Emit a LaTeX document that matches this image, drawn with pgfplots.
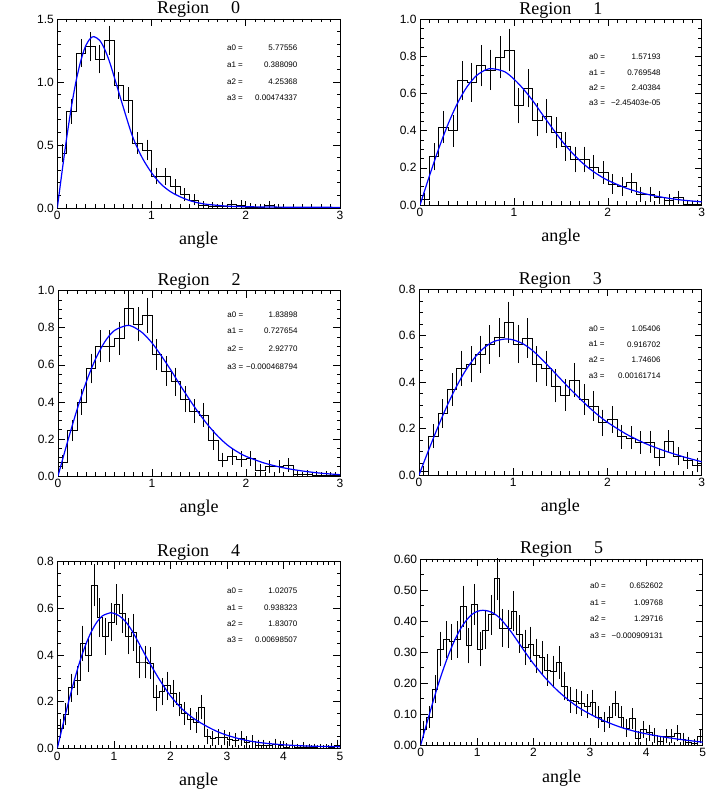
\documentclass[border=0pt]{standalone}
\usepackage{fontspec}
\setmainfont{Liberation Serif}
\setsansfont{Liberation Sans}
\usepackage{pgfplots}
\usepackage{pgfplotstable}
\pgfplotsset{compat=1.18}

\pgfplotstableread{
x y c e
0 0.50 nan 0
0.05 0.435 0.05 0.05
0.1 0.767 0.15 0.075
0.2 1.23 0.25 0.09
0.3 1.28 0.35 0.093
0.4 1.18 0.45 0.09
0.5 1.33 0.55 0.095
0.6 0.973 0.65 0.082
0.7 0.857 0.75 0.078
0.8 0.515 0.85 0.063
0.9 0.46 0.95 0.06
1.0 0.255 1.05 0.044
1.1 0.25 1.15 0.043
1.2 0.17 1.25 0.035
1.3 0.105 1.35 0.028
1.4 0.065 1.45 0.022
1.5 0.02 1.55 0.012
1.6 0.015 1.65 0.01
1.7 0.015 1.75 0.01
1.8 0.03 1.85 0.014
1.9 0.025 1.95 0.013
2.0 0.008 2.05 0.007
2.1 0.005 2.15 0.006
2.2 0.02 2.25 0.012
2.3 0.005 2.35 0.006
2.4 0 nan 0
2.5 0 nan 0
2.6 0 nan 0
2.7 0 nan 0
2.8 0 nan 0
2.9 0 nan 0
3.0 0 nan 0
}\regzero

\pgfplotstableread{
x y c e
0 0.03 0.05 0.02
0.1 0.26 0.15 0.058
0.2 0.42 0.25 0.072
0.3 0.40 0.35 0.07
0.4 0.67 0.45 0.09
0.5 0.66 0.55 0.09
0.6 0.75 0.65 0.096
0.7 0.727 0.75 0.094
0.8 0.795 0.85 0.098
0.9 0.835 0.95 0.1
1.0 0.535 1.05 0.08
1.1 0.628 1.15 0.087
1.2 0.458 1.25 0.074
1.3 0.478 1.35 0.076
1.4 0.39 1.45 0.068
1.5 0.314 1.55 0.062
1.6 0.245 1.65 0.054
1.7 0.245 1.75 0.054
1.8 0.205 1.85 0.05
1.9 0.175 1.95 0.046
2.0 0.113 2.05 0.037
2.1 0.10 2.15 0.035
2.2 0.12 2.25 0.038
2.3 0.057 2.35 0.026
2.4 0.057 2.45 0.026
2.5 0.04 2.55 0.022
2.6 0.025 2.65 0.017
2.7 0.04 2.75 0.022
2.8 0.005 2.85 0.008
2.9 0.005 2.95 0.008
3.0 0.005 nan 0
}\regone

\pgfplotstableread{
x y c e
0 0.075 0.05 0.023
0.1 0.245 0.15 0.042
0.2 0.40 0.25 0.054
0.3 0.58 0.35 0.065
0.4 0.70 0.45 0.071
0.5 0.70 0.55 0.071
0.6 0.743 0.65 0.073
0.7 0.905 0.75 0.081
0.8 0.818 0.85 0.077
0.9 0.868 0.95 0.079
1.0 0.656 1.05 0.069
1.1 0.567 1.15 0.064
1.2 0.509 1.25 0.061
1.3 0.415 1.35 0.055
1.4 0.35 1.45 0.05
1.5 0.33 1.55 0.049
1.6 0.195 1.65 0.038
1.7 0.086 1.75 0.025
1.8 0.104 1.85 0.027
1.9 0.092 1.95 0.026
2.0 0.095 2.05 0.026
2.1 0.032 2.15 0.015
2.2 0.05 2.25 0.019
2.3 0.05 2.35 0.019
2.4 0.06 2.45 0.021
2.5 0.01 2.55 0.009
2.6 0.008 2.65 0.008
2.7 0.005 2.75 0.006
2.8 0.005 2.85 0.006
2.9 0.002 2.95 0.004
3.0 0.002 nan 0
}\regtwo

\pgfplotstableread{
x y c e
0 0.015 0.05 0.012
0.1 0.168 0.15 0.039
0.2 0.265 0.25 0.049
0.3 0.368 0.35 0.058
0.4 0.46 0.45 0.064
0.5 0.477 0.55 0.066
0.6 0.52 0.65 0.068
0.7 0.562 0.75 0.071
0.8 0.592 0.85 0.073
0.9 0.658 0.95 0.077
1.0 0.565 1.05 0.071
1.1 0.59 1.15 0.073
1.2 0.477 1.25 0.066
1.3 0.46 1.35 0.064
1.4 0.384 1.45 0.059
1.5 0.345 1.55 0.056
1.6 0.41 1.65 0.061
1.7 0.325 1.75 0.054
1.8 0.298 1.85 0.052
1.9 0.225 1.95 0.045
2.0 0.238 2.05 0.046
2.1 0.165 2.15 0.039
2.2 0.16 2.25 0.038
2.3 0.14 2.35 0.036
2.4 0.143 2.45 0.036
2.5 0.075 2.55 0.026
2.6 0.145 2.65 0.036
2.7 0.082 2.75 0.027
2.8 0.062 2.85 0.024
2.9 0.043 2.95 0.02
3.0 0.043 nan 0
}\regthree

\pgfplotstableread{
x y c e
0 0.086 0.05 0.028
0.1 0.146 0.15 0.036
0.2 0.26 0.25 0.048
0.3 0.29 0.35 0.051
0.4 0.45 0.45 0.064
0.5 0.40 0.55 0.06
0.6 0.70 0.65 0.079
0.7 0.56 0.75 0.071
0.8 0.48 0.85 0.066
0.9 0.54 0.95 0.07
1.0 0.617 1.05 0.075
1.1 0.578 1.15 0.072
1.2 0.481 1.25 0.066
1.3 0.497 1.35 0.067
1.4 0.37 1.45 0.058
1.5 0.37 1.55 0.058
1.6 0.364 1.65 0.057
1.7 0.217 1.75 0.044
1.8 0.243 1.85 0.047
1.9 0.268 1.95 0.049
2.0 0.235 2.05 0.046
2.1 0.19 2.15 0.041
2.2 0.15 2.25 0.037
2.3 0.126 2.35 0.034
2.4 0.11 2.45 0.032
2.5 0.177 2.55 0.04
2.6 0.05 2.65 0.021
2.7 0.043 2.75 0.02
2.8 0.049 2.85 0.021
2.9 0.046 2.95 0.02
3.0 0.039 3.05 0.019
3.1 0.034 3.15 0.018
3.2 0.043 3.25 0.02
3.3 0.024 3.35 0.015
3.4 0.029 3.45 0.016
3.5 0.014 3.55 0.011
3.6 0.014 3.65 0.011
3.7 0.011 3.75 0.01
3.8 0.017 3.85 0.012
3.9 0.011 3.95 0.01
4.0 0.004 4.05 0.006
4.1 0.014 4.15 0.011
4.2 0.003 4.25 0.005
4.3 0.006 4.35 0.007
4.4 0.003 4.45 0.005
4.5 0.003 4.55 0.005
4.6 0.002 4.65 0.004
4.7 0.002 4.75 0.004
4.8 0.004 4.85 0.006
4.9 0.014 4.95 0.011
5.0 0.014 nan 0
}\regfour

\pgfplotstableread{
x y c e
0 0.05 0.05 0.019
0.1 0.09 0.15 0.026
0.2 0.18 0.25 0.036
0.3 0.31 0.35 0.047
0.4 0.34 0.45 0.05
0.5 0.333 0.55 0.049
0.6 0.34 0.65 0.05
0.7 0.448 0.75 0.057
0.8 0.32 0.85 0.048
0.9 0.454 0.95 0.057
1.0 0.31 1.05 0.047
1.1 0.37 1.15 0.052
1.2 0.42 1.25 0.055
1.3 0.538 1.35 0.062
1.4 0.378 1.45 0.052
1.5 0.375 1.55 0.052
1.6 0.432 1.65 0.056
1.7 0.358 1.75 0.051
1.8 0.315 1.85 0.048
1.9 0.325 1.95 0.048
2.0 0.288 2.05 0.046
2.1 0.282 2.15 0.045
2.2 0.242 2.25 0.042
2.3 0.238 2.35 0.041
2.4 0.267 2.45 0.044
2.5 0.19 2.55 0.037
2.6 0.145 2.65 0.032
2.7 0.14 2.75 0.032
2.8 0.135 2.85 0.031
2.9 0.125 2.95 0.03
3.0 0.138 3.05 0.032
3.1 0.09 3.15 0.026
3.2 0.075 3.25 0.023
3.3 0.09 3.35 0.026
3.4 0.135 3.45 0.031
3.5 0.09 3.55 0.026
3.6 0.055 3.65 0.02
3.7 0.085 3.75 0.025
3.8 0.022 3.85 0.013
3.9 0.05 3.95 0.019
4.0 0.04 4.05 0.017
4.1 0.03 4.15 0.015
4.2 0.012 4.25 0.009
4.3 0.028 4.35 0.014
4.4 0.028 4.45 0.014
4.5 0.038 4.55 0.017
4.6 0.018 4.65 0.011
4.7 0.01 4.75 0.008
4.8 0.004 4.85 0.005
4.9 0.028 4.95 0.014
5.0 0.028 nan 0
}\regfive

\tikzset{partxt/.style={font=\sffamily\fontsize{8}{8}\selectfont, inner sep=0pt}}
\pgfplotsset{
  panel/.style={
    scale only axis, anchor=south west,
    axis line style={black, line width=0.7pt},
    tick style={black, line width=0.6pt},
    major tick length=7pt, minor tick length=3.5pt,
    tick align=inside, xtick pos=both, ytick pos=both,
    xticklabel pos=bottom, yticklabel pos=left,
    minor x tick num=9,
    ticklabel style={font=\sffamily\fontsize{12}{12}\selectfont},
    /pgf/number format/assume math mode=true,
    xlabel={angle},
    xlabel style={font=\rmfamily\fontsize{18}{18}\selectfont, at={(axis description cs:0.5,0)}, anchor=base, yshift=-37pt},
    title style={font=\rmfamily\fontsize{18}{18}\selectfont, at={(axis description cs:0.5,1)}, anchor=base, yshift=-1pt},
    clip mode=individual, xmin=0, ymin=0,
  },
  hist/.style={const plot mark left, black, line width=0.6pt, mark=none},
  ebar/.style={draw=none, mark=none,
    error bars/.cd, y dir=both, y explicit, error mark=-,
    error bar style={draw=black, line width=0.6pt},
    error mark options={draw=black, line width=0.6pt, mark size=2.8pt}},
  fit/.style={blue, line width=1.2pt, smooth, mark=none},
}

\begin{document}
\begin{tikzpicture}
\useasboundingbox (0pt,0pt) rectangle (706pt,797pt);

% Region 0
\begin{axis}[panel, at={(57.3pt,589pt)}, width=282.7pt, height=189pt,
  xmax=3, ymax=1.5, xtick={0,1,2,3}, ytick={0,0.5,1.0,1.5}, minor y tick num=4,
  yticklabel style={/pgf/number format/.cd, fixed, fixed zerofill, precision=1},
  title={Region\hspace{22pt}0}]
\addplot[hist] table[x=x, y=y] {\regzero};
\addplot[ebar] table[x=c, y=y, y error=e] {\regzero};
\addplot[fit] coordinates {(0,0) (0.05,0.286) (0.1,0.559) (0.15,0.804) (0.2,1.01) (0.25,1.17) (0.3,1.285) (0.35,1.345) (0.39,1.36) (0.45,1.33) (0.5,1.265) (0.55,1.17) (0.6,1.05) (0.7,0.80) (0.8,0.565) (0.9,0.40) (1.0,0.28) (1.1,0.19) (1.2,0.13) (1.3,0.09) (1.4,0.06) (1.5,0.04) (1.6,0.028) (1.8,0.015) (2.0,0.01) (2.5,0.006) (3.0,0.005)};
\node[partxt, anchor=west] at (axis description cs:0.60,0.847) {a0 =};
\node[partxt, anchor=east] at (axis description cs:0.85,0.847) {5.77556};
\node[partxt, anchor=west] at (axis description cs:0.60,0.757) {a1 =};
\node[partxt, anchor=east] at (axis description cs:0.85,0.757) {0.388090};
\node[partxt, anchor=west] at (axis description cs:0.60,0.667) {a2 =};
\node[partxt, anchor=east] at (axis description cs:0.85,0.667) {4.25368};
\node[partxt, anchor=west] at (axis description cs:0.60,0.582) {a3 =};
\node[partxt, anchor=east] at (axis description cs:0.85,0.582) {0.00474337};
\end{axis}

% Region 1
\begin{axis}[panel, at={(420pt,592pt)}, width=281.7pt, height=185.7pt,
  xmax=3, ymax=1.0, xtick={0,1,2,3}, ytick={0,0.2,0.4,0.6,0.8,1.0}, minor y tick num=3,
  yticklabel style={/pgf/number format/.cd, fixed, fixed zerofill, precision=1},
  title={Region\hspace{22pt}1}]
\addplot[hist] table[x=x, y=y] {\regone};
\addplot[ebar] table[x=c, y=y, y error=e] {\regone};
\addplot[fit] coordinates {(0,0) (0.1,0.156) (0.2,0.304) (0.3,0.437) (0.4,0.549) (0.5,0.636) (0.6,0.696) (0.7,0.728) (0.77,0.734) (0.9,0.718) (1.0,0.678) (1.1,0.625) (1.2,0.562) (1.3,0.49) (1.4,0.42) (1.5,0.352) (1.6,0.292) (1.7,0.24) (1.8,0.197) (1.9,0.162) (2.0,0.133) (2.2,0.09) (2.4,0.06) (2.6,0.04) (2.8,0.026) (3.0,0.017)};
\node[partxt, anchor=west] at (axis description cs:0.60,0.80) {a0 =};
\node[partxt, anchor=east] at (axis description cs:0.855,0.80) {1.57193};
\node[partxt, anchor=west] at (axis description cs:0.60,0.713) {a1 =};
\node[partxt, anchor=east] at (axis description cs:0.855,0.713) {0.769548};
\node[partxt, anchor=west] at (axis description cs:0.60,0.632) {a2 =};
\node[partxt, anchor=east] at (axis description cs:0.855,0.632) {2.40384};
\node[partxt, anchor=west] at (axis description cs:0.60,0.548) {a3 =};
\node[partxt, anchor=east] at (axis description cs:0.855,0.548) {−2.45403e-05};
\end{axis}

% Region 2
\begin{axis}[panel, at={(58pt,321pt)}, width=282pt, height=185.3pt,
  xmax=3, ymax=1.0, xtick={0,1,2,3}, ytick={0,0.2,0.4,0.6,0.8,1.0}, minor y tick num=3,
  yticklabel style={/pgf/number format/.cd, fixed, fixed zerofill, precision=1},
  title={Region\hspace{22pt}2}]
\addplot[hist] table[x=x, y=y] {\regtwo};
\addplot[ebar] table[x=c, y=y, y error=e] {\regtwo};
\addplot[fit] coordinates {(0,0) (0.1,0.182) (0.2,0.354) (0.3,0.507) (0.4,0.632) (0.5,0.726) (0.6,0.785) (0.73,0.812) (0.8,0.805) (0.9,0.772) (1.0,0.718) (1.1,0.648) (1.2,0.572) (1.3,0.49) (1.4,0.412) (1.5,0.338) (1.6,0.272) (1.7,0.215) (1.8,0.168) (1.9,0.133) (2.0,0.106) (2.2,0.069) (2.4,0.044) (2.6,0.027) (2.8,0.015) (3.0,0.007)};
\node[partxt, anchor=west] at (axis description cs:0.60,0.869) {a0 =};
\node[partxt, anchor=east] at (axis description cs:0.85,0.869) {1.83898};
\node[partxt, anchor=west] at (axis description cs:0.60,0.784) {a1 =};
\node[partxt, anchor=east] at (axis description cs:0.85,0.784) {0.727654};
\node[partxt, anchor=west] at (axis description cs:0.60,0.687) {a2 =};
\node[partxt, anchor=east] at (axis description cs:0.85,0.687) {2.92770};
\node[partxt, anchor=west] at (axis description cs:0.60,0.590) {a3 =};
\node[partxt, anchor=east] at (axis description cs:0.85,0.590) {−0.000468794};
\end{axis}

% Region 3
\begin{axis}[panel, at={(419pt,322pt)}, width=282.7pt, height=185.7pt,
  xmax=3, ymax=0.8, xtick={0,1,2,3}, ytick={0,0.2,0.4,0.6,0.8}, minor y tick num=3,
  yticklabel style={/pgf/number format/.cd, fixed, fixed zerofill, precision=1},
  title={Region\hspace{22pt}3}]
\addplot[hist] table[x=x, y=y] {\regthree};
\addplot[ebar] table[x=c, y=y, y error=e] {\regthree};
\addplot[fit] coordinates {(0,0) (0.1,0.105) (0.2,0.206) (0.3,0.300) (0.4,0.383) (0.5,0.454) (0.6,0.510) (0.7,0.551) (0.8,0.576) (0.92,0.586) (1.0,0.582) (1.1,0.566) (1.2,0.538) (1.3,0.50) (1.4,0.458) (1.5,0.415) (1.6,0.372) (1.7,0.332) (1.8,0.293) (1.9,0.258) (2.0,0.227) (2.2,0.176) (2.4,0.136) (2.6,0.105) (2.8,0.079) (3.0,0.057)};
\node[partxt, anchor=west] at (axis description cs:0.60,0.787) {a0 =};
\node[partxt, anchor=east] at (axis description cs:0.855,0.787) {1.05406};
\node[partxt, anchor=west] at (axis description cs:0.60,0.704) {a1 =};
\node[partxt, anchor=east] at (axis description cs:0.855,0.704) {0.916702};
\node[partxt, anchor=west] at (axis description cs:0.60,0.622) {a2 =};
\node[partxt, anchor=east] at (axis description cs:0.855,0.622) {1.74606};
\node[partxt, anchor=west] at (axis description cs:0.60,0.534) {a3 =};
\node[partxt, anchor=east] at (axis description cs:0.855,0.534) {0.00161714};
\end{axis}

% Region 4
\begin{axis}[panel, at={(57.3pt,48.7pt)}, width=282.7pt, height=186.6pt,
  xmax=5, ymax=0.8, xtick={0,1,2,3,4,5}, ytick={0,0.2,0.4,0.6,0.8}, minor y tick num=3,
  yticklabel style={/pgf/number format/.cd, fixed, fixed zerofill, precision=1},
  title={Region\hspace{22pt}4}]
\addplot[hist] table[x=x, y=y] {\regfour};
\addplot[ebar] table[x=c, y=y, y error=e] {\regfour};
\addplot[fit] coordinates {(0,0) (0.1,0.1015) (0.2,0.1996) (0.3,0.291) (0.4,0.373) (0.5,0.443) (0.6,0.499) (0.7,0.541) (0.8,0.568) (0.94,0.581) (1.0,0.579) (1.1,0.567) (1.2,0.545) (1.3,0.512) (1.4,0.47) (1.5,0.425) (1.6,0.38) (1.7,0.338) (1.8,0.297) (1.9,0.26) (2.0,0.225) (2.2,0.17) (2.4,0.13) (2.6,0.10) (2.8,0.075) (3.0,0.056) (3.3,0.036) (3.6,0.024) (4.0,0.015) (4.5,0.009) (5.0,0.007)};
\node[partxt, anchor=west] at (axis description cs:0.60,0.843) {a0 =};
\node[partxt, anchor=east] at (axis description cs:0.85,0.843) {1.02075};
\node[partxt, anchor=west] at (axis description cs:0.60,0.754) {a1 =};
\node[partxt, anchor=east] at (axis description cs:0.85,0.754) {0.938323};
\node[partxt, anchor=west] at (axis description cs:0.60,0.668) {a2 =};
\node[partxt, anchor=east] at (axis description cs:0.85,0.668) {1.83070};
\node[partxt, anchor=west] at (axis description cs:0.60,0.580) {a3 =};
\node[partxt, anchor=east] at (axis description cs:0.85,0.580) {0.00698507};
\end{axis}

% Region 5
\begin{axis}[panel, at={(420.7pt,52pt)}, width=282pt, height=186pt,
  xmax=5, ymax=0.6, xtick={0,1,2,3,4,5}, ytick={0,0.1,0.2,0.3,0.4,0.5,0.6}, minor y tick num=1,
  yticklabel style={/pgf/number format/.cd, fixed, fixed zerofill, precision=2},
  title={Region\hspace{22pt}5}]
\addplot[hist] table[x=x, y=y] {\regfive};
\addplot[ebar] table[x=c, y=y, y error=e] {\regfive};
\addplot[fit] coordinates {(0,0) (0.1,0.065) (0.2,0.128) (0.3,0.189) (0.4,0.244) (0.5,0.294) (0.6,0.337) (0.7,0.373) (0.8,0.40) (0.9,0.42) (1.0,0.431) (1.1,0.4345) (1.2,0.432) (1.3,0.424) (1.4,0.41) (1.5,0.389) (1.6,0.366) (1.7,0.34) (1.8,0.313) (1.9,0.287) (2.0,0.262) (2.2,0.218) (2.4,0.18) (2.6,0.148) (2.8,0.121) (3.0,0.10) (3.2,0.082) (3.4,0.067) (3.6,0.054) (3.8,0.044) (4.0,0.036) (4.3,0.026) (4.6,0.018) (5.0,0.009)};
\node[partxt, anchor=west] at (axis description cs:0.60,0.856) {a0 =};
\node[partxt, anchor=east] at (axis description cs:0.86,0.856) {0.652602};
\node[partxt, anchor=west] at (axis description cs:0.60,0.767) {a1 =};
\node[partxt, anchor=east] at (axis description cs:0.86,0.767) {1.09768};
\node[partxt, anchor=west] at (axis description cs:0.60,0.677) {a2 =};
\node[partxt, anchor=east] at (axis description cs:0.86,0.677) {1.29716};
\node[partxt, anchor=west] at (axis description cs:0.60,0.587) {a3 =};
\node[partxt, anchor=east] at (axis description cs:0.86,0.587) {−0.000909131};
\end{axis}

\end{tikzpicture}
\end{document}
